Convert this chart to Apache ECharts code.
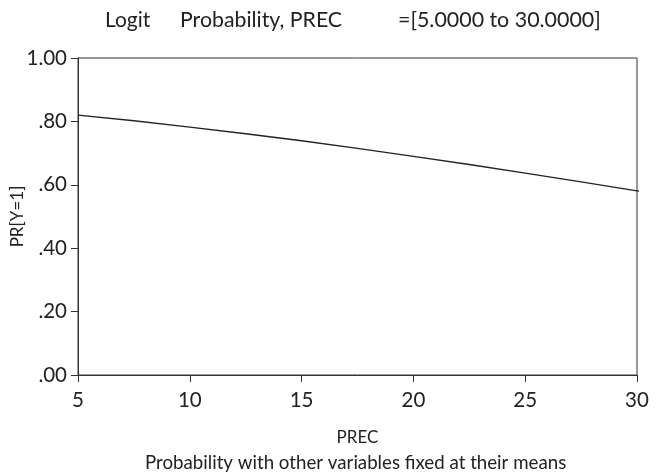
<!DOCTYPE html>
<html>
<head>
<meta charset="utf-8">
<script src="https://cdn.jsdelivr.net/npm/echarts@6/dist/echarts.min.js"></script>
<style>html,body{margin:0;padding:0;background:#fff;}#c{width:657px;height:473px;}</style>
</head>
<body>
<div id="c"></div>
<script>
var precValues = [5, 7.5, 10, 12.5, 15, 17.5, 20, 22.5, 25, 27.5, 30, 30.3];
var probValues = [0.820, 0.802, 0.782, 0.761, 0.739, 0.715, 0.690, 0.664, 0.637, 0.609, 0.581, 0.577];
var titleParts = ["Logit", "Probability, PREC", "=[5.0000 to 30.0000]"];
var xName = "PREC";
var subtitle = "Probability with other variables fixed at their means";
var yName = "PR[Y=1]";

var FONT = "Lato";
var TXT = "#222";
var chart = echarts.init(document.getElementById('c'));
chart.setOption({
  animation: false,
  backgroundColor: '#fff',
  grid: { left: 78, right: 20, top: 58, bottom: 98, containLabel: false, outerBoundsMode: 'none',
    show: true, borderColor: '#333', borderWidth: 1 },
  graphic: [
    { type: 'text', left: 105, top: 10, style: { text: titleParts[0], font: '21px ' + FONT, fill: TXT } },
    { type: 'text', left: 180, top: 10, style: { text: titleParts[1], font: '21.3px ' + FONT, fill: TXT } },
    { type: 'text', left: 398, top: 10, style: { text: titleParts[2], font: '21.4px ' + FONT, fill: TXT } },
    { type: 'text', left: 145, top: 453, style: { text: subtitle, font: '18.7px ' + FONT, fill: TXT } }
  ],
  xAxis: {
    type: 'value', min: 5, max: 30, interval: 5,
    name: xName, nameLocation: 'middle', nameGap: 54, nameMoveOverlap: false,
    nameTextStyle: { fontFamily: FONT, fontSize: 17, color: TXT },
    axisLine: { show: true, lineStyle: { color: '#333', width: 1 } },
    axisTick: { show: true, length: 7, lineStyle: { color: '#333' } },
    axisLabel: { fontFamily: FONT, fontSize: 20.5, color: TXT, margin: 15 },
    splitLine: { show: false }
  },
  yAxis: {
    type: 'value', min: 0, max: 1, interval: 0.2,
    name: yName, nameLocation: 'middle', nameGap: 52, nameRotate: 90, nameMoveOverlap: false,
    nameTextStyle: { fontFamily: FONT, fontSize: 17, color: TXT },
    axisLine: { show: true, lineStyle: { color: '#333', width: 1 } },
    axisTick: { show: true, length: 7, lineStyle: { color: '#333' } },
    axisLabel: { fontFamily: FONT, fontSize: 20.5, color: TXT, margin: 11,
      formatter: function (v) { var s = v.toFixed(2); return v < 1 ? s.replace(/^0/, '') : s; } },
    splitLine: { show: false }
  },
  series: [{
    type: 'line',
    data: precValues.map(function (x, i) { return [x, probValues[i]]; }),
    showSymbol: false, clip: false,
    lineStyle: { color: '#222', width: 1.3 }
  }]
});
</script>
</body>
</html>
